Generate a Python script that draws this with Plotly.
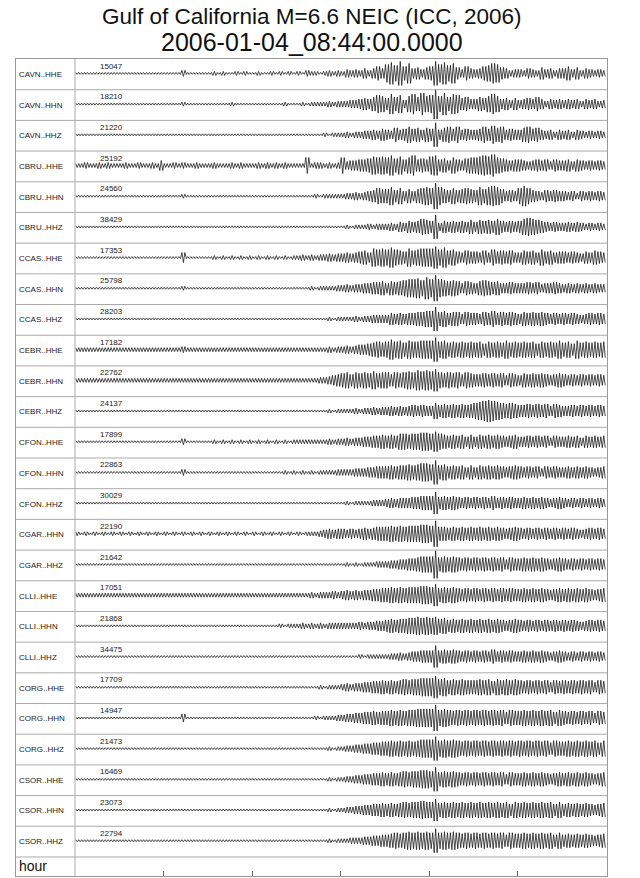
import plotly.graph_objects as go

# ---------------- data ----------------
stations = ["CAVN..HHE", "CAVN..HHN", "CAVN..HHZ", "CBRU..HHE", "CBRU..HHN", "CBRU..HHZ",
            "CCAS..HHE", "CCAS..HHN", "CCAS..HHZ", "CEBR..HHE", "CEBR..HHN", "CEBR..HHZ",
            "CFON..HHE", "CFON..HHN", "CFON..HHZ", "CGAR..HHN", "CGAR..HHZ",
            "CLLI..HHE", "CLLI..HHN", "CLLI..HHZ", "CORG..HHE", "CORG..HHN", "CORG..HHZ",
            "CSOR..HHE", "CSOR..HHN", "CSOR..HHZ"]
max_counts = [15047, 18210, 21220, 25192, 24560, 38429, 17353, 25798, 28203, 17182, 22762, 24137,
              17899, 22863, 30029, 22190, 21642, 17051, 21868, 34475, 17709, 14947, 21473,
              16469, 23073, 22794]
tick_hours = [1, 2, 3, 4, 5]
DT = 0.05  # sampling step of the envelopes (axis units)

# envelope amplitude (half-height, pixels, hex digit) of each trace every DT
env_CAVN_HHE = "1111111111 1111111111 1111311111 1212112121 1211212121 2132212323 2434353575 9b8c7a5646 7c9b8a6475 4578a96534 4354364535 5746354343"
env_CAVN_HHN = "1111111111 1111111111 1111211111 1111121111 1111111211 1212222323 3344565798 6a7948a7b8 9f8b7a9675 5768a85646 4565753545 4545354534"
env_CAVN_HHZ = "1111111111 1111111111 1111111111 1111111111 1111111111 1111112122 2323344546 5475686757 6c57868565 5686978565 5786754535 4535434343"
env_CBRU_HHE = "2232232322 2322322325 2232322322 2322232322 2323232322 2282332323 8455667989 8a7968a676 9a67586578 89a9b87656 6545656465 5646545454"
env_CBRU_HHN = "1111111111 1111111111 1111211111 1111111111 1111111111 1111212222 2334345687 7968575789 8d97686787 6979a97565 8a86546565 5453545454"
env_CBRU_HHZ = "1111111111 1111111111 1111111111 1111111111 1111111111 1111111111 1212223233 3435465687 6c46565657 5767686565 6898765454 4545434343"
env_CCAS_HHE = "1111111111 1111111111 1111511111 1212121212 1212121212 2323233434 4545675989 8a87697899 9b8a786576 6575867675 5767586756 6565465765"
env_CCAS_HHN = "1111111111 1111111111 1111211111 1111111111 1111111111 1112122223 3434455667 5767899a8b 9d98787576 5787675565 5565645565 4545454544"
env_CCAS_HHZ = "1111111111 1111111111 1111111111 1111111111 1111111111 1111111212 2223233444 4656566778 8c78677576 6576867676 5767676565 6565456565"
env_CEBR_HHE = "2222222222 2222222222 2222322222 2222222222 2222222222 2222222323 3434556787 8a89798899 9c89787878 7868787978 7878687879 7869787878"
env_CEBR_HHN = "2222222222 2222222222 2222222222 2222222222 2222222222 2222233456 7868787978 8687898a9a 9b87878687 6676767576 5767676567 6565656565"
env_CEBR_HHZ = "1111111111 1111111111 1111111111 1111111111 1111111111 1111111212 2223233434 4545456565 5867676767 89aba98787 6676767576 5565656565"
env_CFON_HHE = "1111111111 1111111111 1111311111 1212121212 1212121212 2222222323 3434455667 6768878899 8a87676757 5767676567 5565656465 5656465656"
env_CFON_HHN = "1111111111 1111111111 1111311111 1111111111 1111111212 1212122223 3334445566 6767787899 8c78676757 5767676567 6565646565 5656565456"
env_CFON_HHZ = "1111111111 1111111111 1111111111 1111111111 1111111111 1111111111 1212222333 4545556677 7b67676565 6565756565 5656565456 5454545454"
env_CGAR_HHN = "2121212121 2121212121 2121212121 2121212121 2121212121 2122234545 5454565677 7878788899 8d77676767 6767676567 6565656565 6565456565"
env_CGAR_HHZ = "1111111111 1111111111 1111111111 1111111111 1111111111 1111111111 1212122233 3445566788 8e78787676 7676767576 6767676567 6565656565"
env_CLLI_HHE = "2222222222 2222222222 2222222222 2222222222 2222222222 2223233343 4545455667 7878788899 8b78787676 7676767676 6767676567 6767676567"
env_CLLI_HHN = "1111111111 1111111111 1111111111 1111111111 1111112122 2323232333 3333434455 6767788989 8978676767 6767676567 6565656565 6565456565"
env_CLLI_HHZ = "1111111111 1111111111 1111111111 1111111111 1111111111 1111111111 1111212222 2334345566 6b67676565 6565756565 5656565456 5454545454"
env_CORG_HHE = "1111111111 1111111111 1111111111 1111111111 1111111111 1111121222 3434455667 6767878899 9b89787877 7878687878 7676767576 7676767576"
env_CORG_HHN = "1111111111 1111111111 1111411111 1111111111 1111111111 1111212223 3445566767 7878788999 9d89878787 8787878687 7878787868 7676767576"
env_CORG_HHZ = "1111111111 1111111111 1111111111 1111111111 1111111111 1111111212 2334455667 7878787899 9c89898787 8787878787 8787878687 7878787868"
env_CSOR_HHE = "1111111111 1111111111 1111111111 1111111111 1111111111 1111111212 2334455667 6767878899 8c78787676 7676767576 6767676567 6767676567"
env_CSOR_HHN = "1111111111 1111111111 1111111111 1111111111 1111111111 1111111212 2334455667 6767878898 8b78787878 7878787868 7878787868 6767676567"
env_CSOR_HHZ = "1111111111 1111111111 1111111111 1111111111 1111111111 1111111212 2233344556 6787898989 8c89898787 8787878687 7878787868 6767676567"

envelopes = [env_CAVN_HHE, env_CAVN_HHN, env_CAVN_HHZ, env_CBRU_HHE, env_CBRU_HHN, env_CBRU_HHZ,
             env_CCAS_HHE, env_CCAS_HHN, env_CCAS_HHZ, env_CEBR_HHE, env_CEBR_HHN, env_CEBR_HHZ,
             env_CFON_HHE, env_CFON_HHN, env_CFON_HHZ, env_CGAR_HHN, env_CGAR_HHZ,
             env_CLLI_HHE, env_CLLI_HHN, env_CLLI_HHZ, env_CORG_HHE, env_CORG_HHN, env_CORG_HHZ,
             env_CSOR_HHE, env_CSOR_HHN, env_CSOR_HHZ]

# ---------------- layout geometry ----------------
W, H = 640, 878
FRAME_L, FRAME_R, FRAME_T, FRAME_B = 16, 607, 59, 876   # window pixels
DIV_X = 75                                             # label column border (window px)
ML, MR, MT, MB = FRAME_L, W - FRAME_R, FRAME_T, H - FRAME_B
PX_PER_X = 88.5            # pixels per hour tick
XMIN = -(DIV_X - FRAME_L) / PX_PER_X
XMAX = (FRAME_R - DIV_X) / PX_PER_X
N = len(stations)
HOUR_ROW = 0.62
YMIN = -(N + HOUR_ROW)
PLOT_H = FRAME_B - FRAME_T
PX_PER_Y = PLOT_H / (N + HOUR_ROW)
S = 1.0 / PX_PER_Y
FONT = "Liberation Sans, Arial, Helvetica, sans-serif"
CYCLES = 3   # half-oscillations drawn per envelope sample (line style)

fig = go.Figure()
for k, (name, env) in enumerate(zip(stations, envelopes)):
    amps = [int(c, 16) for c in env if c != " "]
    yc = -(k + 0.5) + 0.03
    xs, ys = [], []
    sign = 1
    for i, a in enumerate(amps):
        t0 = i * DT
        for j in range(CYCLES):
            xs.append(t0 + DT * (j + 0.5) / CYCLES)
            ys.append(yc + sign * a * S)
            sign = -sign
    fig.add_trace(go.Scatter(x=xs, y=ys, mode="lines", name=name,
                             line=dict(color="#111111", width=0.75),
                             hoverinfo="skip", showlegend=False))

shapes = []
for k in range(1, N + 1):
    shapes.append(dict(type="line", xref="x", yref="y", x0=XMIN, x1=XMAX, y0=-k, y1=-k,
                       line=dict(color="#aaaaaa", width=1)))
shapes.append(dict(type="line", xref="x", yref="y", x0=0, x1=0, y0=YMIN, y1=0,
                   line=dict(color="#aaaaaa", width=1)))

annotations = []
for k, (name, cnt) in enumerate(zip(stations, max_counts)):
    annotations.append(dict(x=XMIN + 0.5 / PX_PER_X, y=-(k + 0.5), xref="x", yref="y",
                            text=name, showarrow=False, xanchor="left", yanchor="middle",
                            font=dict(family=FONT, size=8, color="#222222")))
    annotations.append(dict(x=23 / PX_PER_X, y=-k - 7 * S, xref="x", yref="y",
                            text=str(cnt), showarrow=False, xanchor="left", yanchor="middle",
                            font=dict(family=FONT, size=8, color="#222222")))
annotations.append(dict(x=XMIN + 0.5 / PX_PER_X, y=-(N + HOUR_ROW / 2), xref="x", yref="y",
                        text="hour", showarrow=False, xanchor="left", yanchor="middle",
                        font=dict(family=FONT, size=14, color="#111111")))
annotations.append(dict(x=0.5, y=1 + (FRAME_T - 17) / PLOT_H, xref="paper", yref="paper",
                        text="Gulf of California M=6.6 NEIC (ICC, 2006)", showarrow=False,
                        xanchor="center", yanchor="middle",
                        font=dict(family=FONT, size=22.5, color="#111111")))
annotations.append(dict(x=0.5, y=1 + (FRAME_T - 42) / PLOT_H, xref="paper", yref="paper",
                        text="2006-01-04_08:44:00.0000", showarrow=False,
                        xanchor="center", yanchor="middle",
                        font=dict(family=FONT, size=25, color="#111111")))

fig.update_layout(
    width=W, height=H, margin=dict(l=ML, r=MR, t=MT, b=MB, pad=0),
    paper_bgcolor="white", plot_bgcolor="white",
    shapes=shapes, annotations=annotations, showlegend=False,
    xaxis=dict(range=[XMIN, XMAX], showgrid=False, zeroline=False, showline=True, mirror=True,
               linecolor="#999999", linewidth=1, ticks="inside", tickvals=tick_hours,
               ticklen=5, tickcolor="#666666", showticklabels=False, fixedrange=True),
    yaxis=dict(range=[YMIN, 0], showgrid=False, zeroline=False, showline=True, mirror=True,
               linecolor="#999999", linewidth=1, showticklabels=False, fixedrange=True),
)
# remove the default 8px page margin so the figure sits at the window corner
fig.write_html("out.html", config={"displayModeBar": False},
               post_script="document.body.style.margin='0px';")
